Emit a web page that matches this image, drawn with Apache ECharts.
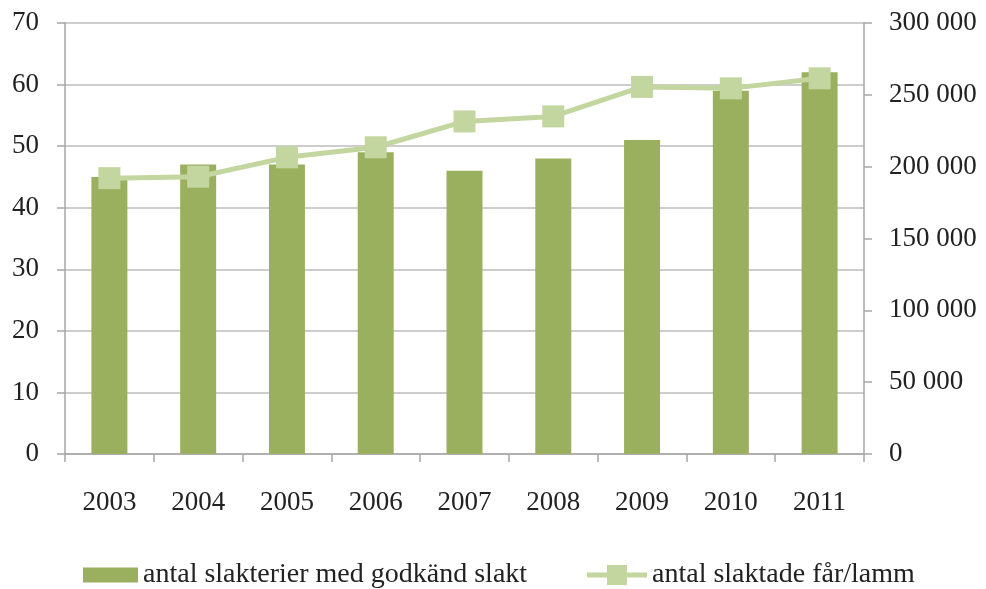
<!DOCTYPE html>
<html><head><meta charset="utf-8">
<script src="https://cdn.jsdelivr.net/npm/echarts@6/dist/echarts.min.js"></script>
<style>html,body{margin:0;padding:0;background:#fff}#c{width:986px;height:589px}</style>
</head><body><div id="c"></div>
<script>
const years = ['2003','2004','2005','2006','2007','2008','2009','2010','2011'];
const slakterier = [45, 47, 47, 49, 46, 48, 51, 59, 62];
const slaktade = [192000, 193000, 206500, 213500, 231500, 235000, 255500, 254500, 261500];
const leftTicks = {min: 0, max: 70, interval: 10};
const rightTicks = {min: 0, max: 300000, interval: 50000};
const seriesNames = ['antal slakterier med godkänd slakt', 'antal slaktade får/lamm'];

const font = 'Liberation Serif';
const legendText = {fontFamily: font, fontSize: 28, color: '#222'};
const lineIcon = 'path://M0,7.5 L20,7.5 L20,0 L40,0 L40,7.5 L60,7.5 L60,12.5 L40,12.5 L40,20 L20,20 L20,12.5 L0,12.5 Z';
const chart = echarts.init(document.getElementById('c'), null, {renderer: 'canvas'});
chart.setOption({
  animation: false,
  textStyle: {fontFamily: font},
  grid: {left: 65, right: 122, top: 23, bottom: 135},
  legend: [{
    left: 83, top: 561, padding: 0, itemWidth: 55, itemHeight: 15,
    textStyle: legendText,
    data: [{name: seriesNames[0], icon: 'rect'}]
  }, {
    left: 587, top: 561, padding: 0, itemWidth: 60, itemHeight: 20,
    textStyle: legendText,
    data: [{name: seriesNames[1], icon: lineIcon}]
  }],
  xAxis: {
    type: 'category', data: years,
    axisLine: {lineStyle: {color: '#a6a6a6', width: 1.5}},
    axisTick: {show: true, length: 8, alignWithLabel: false, lineStyle: {color: '#a6a6a6', width: 1.5}},
    axisLabel: {fontFamily: font, fontSize: 27, color: '#222', margin: 35}
  },
  yAxis: [{
    type: 'value', min: leftTicks.min, max: leftTicks.max, interval: leftTicks.interval,
    axisLine: {show: true, lineStyle: {color: '#a6a6a6', width: 1.5}},
    axisTick: {show: true, length: 8, lineStyle: {color: '#a6a6a6', width: 1.5}},
    splitLine: {lineStyle: {color: '#bdbdbd', width: 1.5}},
    axisLabel: {fontFamily: font, fontSize: 27, color: '#222', margin: 26}
  }, {
    type: 'value', position: 'right', min: rightTicks.min, max: rightTicks.max, interval: rightTicks.interval,
    axisLine: {show: true, lineStyle: {color: '#a6a6a6', width: 1.5}},
    axisTick: {show: true, length: 8, lineStyle: {color: '#a6a6a6', width: 1.5}},
    splitLine: {show: false},
    axisLabel: {fontFamily: font, fontSize: 27, color: '#222', margin: 25,
      formatter: v => v === 0 ? '0' : String(v).replace(/\B(?=(\d{3})+(?!\d))/g, ' ')}
  }],
  series: [{
    name: seriesNames[0], type: 'bar', data: slakterier, yAxisIndex: 0,
    barWidth: 36, itemStyle: {color: '#9bb05e'}
  }, {
    name: seriesNames[1], type: 'line', data: slaktade, yAxisIndex: 1,
    symbol: 'rect', symbolSize: 22, showSymbol: true,
    lineStyle: {color: '#c4d6a0', width: 5},
    itemStyle: {color: '#c4d6a0', borderWidth: 0}
  }]
});
</script></body></html>
